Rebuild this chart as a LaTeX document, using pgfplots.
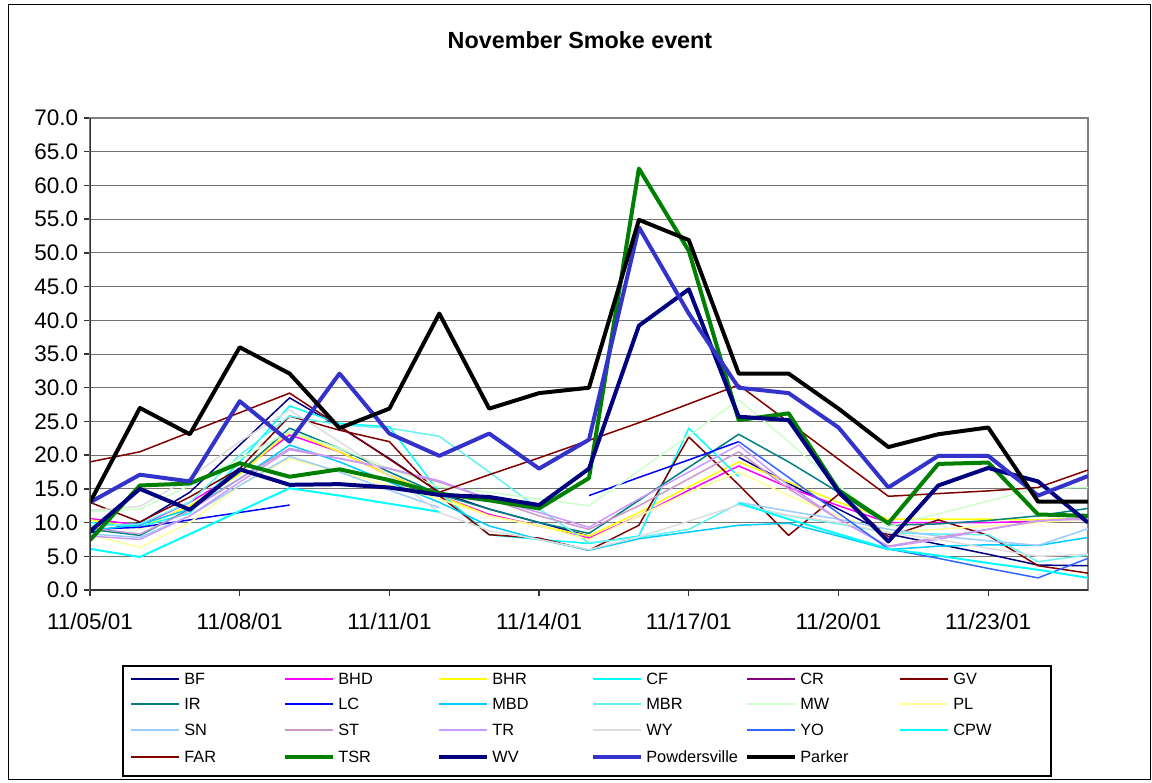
\documentclass[border=0pt]{standalone}
\usepackage{fontspec}
\setmainfont{Liberation Sans}
\usepackage{pgfplots}
\usepackage{pgfplotstable}
\pgfplotsset{compat=1.18}

\definecolor{cBF}{HTML}{000080}
\definecolor{cBHD}{HTML}{FF00FF}
\definecolor{cBHR}{HTML}{FFFF00}
\definecolor{cCF}{HTML}{00FFFF}
\definecolor{cCR}{HTML}{800080}
\definecolor{cGV}{HTML}{800000}
\definecolor{cIR}{HTML}{008080}
\definecolor{cLC}{HTML}{0000FF}
\definecolor{cMBD}{HTML}{00CCFF}
\definecolor{cMBR}{HTML}{66F2F2}
\definecolor{cMW}{HTML}{CCFFCC}
\definecolor{cPL}{HTML}{FFFF99}
\definecolor{cSN}{HTML}{99CCFF}
\definecolor{cST}{HTML}{CC99CC}
\definecolor{cTR}{HTML}{CC99FF}
\definecolor{cWY}{HTML}{DDDDDD}
\definecolor{cYO}{HTML}{3366FF}
\definecolor{cCPW}{HTML}{00FFFF}
\definecolor{cFAR}{HTML}{800000}
\definecolor{cTSR}{HTML}{008000}
\definecolor{cWV}{HTML}{000080}
\definecolor{cPow}{HTML}{3333CC}
\definecolor{cPar}{HTML}{000000}

\pgfplotstableread{
d BF BHD BHR CF CR GV IR LC MBD MBR MW PL SN ST TR WY YO CPW FAR TSR WV Pow Par
0 8.5 10.6 10.4 10.0 nan 13.0 9.0 9.0 8.8 9.5 11.6 8.2 8.3 9.2 8.0 11.8 nan 6.1 19.0 7.4 8.7 13.0 13.0
1 10.0 9.6 9.2 9.4 nan 10.1 8.1 9.3 9.7 9.8 12.0 6.3 7.8 8.3 7.5 12.4 nan 4.9 20.5 15.5 15.0 17.1 27.0
2 14.5 13.0 12.5 11.4 nan 13.8 12.0 10.4 12.0 13.0 15.5 10.0 11.0 11.8 11.0 16.6 nan 8.3 23.4 15.8 11.9 16.1 23.1
3 21.5 17.5 17.2 19.0 nan 18.0 17.5 11.5 16.5 20.0 19.5 15.5 15.5 16.5 16.0 22.0 nan 11.7 26.3 18.8 17.9 28.0 36.0
4 28.5 23.0 23.5 27.3 nan 25.8 24.0 12.6 21.5 25.8 23.5 19.5 19.8 21.0 20.8 26.7 nan 15.1 29.2 16.8 15.6 22.0 32.1
5 24.2 20.5 20.5 24.7 nan 23.7 21.0 nan 19.0 24.5 21.0 17.5 17.5 19.5 19.5 22.0 nan 14.0 24.3 17.9 15.7 32.1 24.0
6 19.5 17.0 17.0 24.2 nan 22.0 17.5 nan 16.0 24.0 18.0 15.5 14.8 18.0 18.0 17.0 nan 12.8 19.4 16.3 15.2 23.2 26.9
7 14.5 14.0 14.0 14.5 nan 14.0 14.2 nan 13.0 22.8 15.3 13.5 12.2 16.0 16.2 11.5 nan 11.6 14.5 14.3 14.1 19.9 41.0
8 12.0 11.2 11.0 8.2 nan 8.2 12.0 nan 9.5 17.5 14.5 11.0 nan 13.5 13.5 8.8 nan nan 17.1 13.3 13.8 23.2 26.9
9 10.0 9.5 9.5 7.5 nan 7.7 10.0 nan 7.5 12.0 13.5 9.5 nan 11.0 11.5 7.5 nan nan 19.6 12.1 12.6 18.0 29.2
10 8.0 7.7 8.0 6.9 nan 5.9 8.4 14.0 5.9 7.0 12.5 7.5 nan 9.0 9.3 6.0 nan nan 22.2 16.6 18.0 22.3 30.0
11 nan 11.0 11.5 8.0 nan 9.6 13.3 16.7 7.6 7.8 17.7 11.0 nan 12.5 13.5 7.9 nan nan 24.8 62.5 39.2 53.8 54.9
12 nan 14.8 15.3 24.0 nan 22.7 18.2 19.3 8.6 9.0 22.9 14.5 nan 16.5 17.5 10.2 nan nan 27.6 50.3 44.6 41.0 51.9
13 19.7 18.4 19.0 16.8 19.7 15.6 23.1 22.0 9.6 12.8 28.2 17.5 13.0 20.5 21.5 12.6 22.0 12.9 30.4 25.2 25.7 30.0 32.1
14 15.8 15.2 16.0 nan nan 8.1 19.0 nan 9.9 11.0 22.0 14.0 11.7 15.0 15.5 11.1 16.7 10.5 24.9 26.2 25.2 29.2 32.1
15 12.0 12.5 13.0 nan nan 14.2 14.5 nan 8.0 9.8 15.5 11.0 10.5 10.5 10.5 10.0 11.4 8.3 19.4 14.8 14.6 24.1 26.9
16 8.3 10.0 10.5 nan nan 7.9 9.6 nan 6.0 8.5 9.4 8.5 9.0 6.5 6.4 8.5 6.1 6.1 13.9 9.9 7.2 15.2 21.2
17 6.8 10.0 10.5 nan nan 10.4 9.8 nan 6.5 8.3 11.3 9.0 8.0 7.8 7.5 7.5 4.7 5.1 14.3 18.7 15.5 19.9 23.1
18 5.3 10.0 10.5 nan nan 8.1 10.3 nan 6.7 8.2 13.2 9.5 7.3 9.0 9.0 6.2 3.2 4.0 14.7 18.9 18.1 19.9 24.1
19 3.7 10.2 10.4 nan nan 3.6 11.0 nan 6.6 4.2 15.1 10.0 6.6 10.2 10.3 5.0 1.8 3.0 15.2 11.2 16.1 14.0 13.1
20 3.6 10.5 10.7 nan nan 2.5 12.1 nan 7.8 5.2 15.2 10.5 9.1 10.8 10.5 5.3 4.7 1.8 17.8 11.0 10.0 16.9 13.1
}\data

\newcommand{\ser}[3]{\addplot[color=#1, line width=#2, no markers, line join=round] table[x=d, y=#3] {\data};}
\newcommand{\legentry}[5]{% x y color width text
  \draw[#3, line width=#4] (#1,#2) -- ++(48,0);
  \node[anchor=west, inner sep=0pt, font=\fontsize{9.8}{11}\selectfont] at (#1+53,#2) {#5};}

\begin{document}
\begin{tikzpicture}
\useasboundingbox (0,0) rectangle (691.2pt,-469.2pt);
\begin{scope}[x=0.6pt, y=-0.6pt]
  \draw[black, line width=0.6pt] (8,4) rectangle (1150,779);
  \node[font=\bfseries\fontsize{14}{16}\selectfont] at (580,40) {November Smoke event};
\end{scope}
\begin{axis}[
  at={(54pt,-354pt)}, anchor=south west,
  scale only axis, width=598.8pt, height=283.2pt,
  xmin=0, xmax=20, ymin=0, ymax=70,
  xtick={0,3,...,18},
  xticklabels={11/05/01,11/08/01,11/11/01,11/14/01,11/17/01,11/20/01,11/23/01},
  xticklabel style={yshift=-7pt},
  ytick={0,5,...,70},
  yticklabel style={/pgf/number format/.cd, fixed, fixed zerofill, precision=1},
  /pgf/number format/assume math mode=true,
  ymajorgrids, grid style={draw=black!55, line width=0.6pt},
  axis line style={draw=black!50, line width=1pt},
  tick align=outside, xtick pos=bottom, ytick pos=left,
  major tick length=3.6pt, tick style={draw=black!80, line width=0.8pt},
  tick label style={font=\fontsize{13.5}{16}\selectfont},
  unbounded coords=jump,
]
\ser{cBF}{0.9pt}{BF}
\ser{cBHD}{0.9pt}{BHD}
\ser{cBHR}{0.9pt}{BHR}
\ser{cCF}{0.9pt}{CF}
\ser{cCR}{0.9pt}{CR}
\ser{cGV}{0.9pt}{GV}
\ser{cIR}{0.9pt}{IR}
\ser{cLC}{0.9pt}{LC}
\ser{cMBD}{0.9pt}{MBD}
\ser{cMBR}{0.9pt}{MBR}
\ser{cMW}{0.9pt}{MW}
\ser{cPL}{0.9pt}{PL}
\ser{cSN}{0.9pt}{SN}
\ser{cST}{0.9pt}{ST}
\ser{cTR}{0.9pt}{TR}
\ser{cWY}{0.9pt}{WY}
\ser{cYO}{0.9pt}{YO}
\ser{cCPW}{1.2pt}{CPW}
\ser{cFAR}{0.9pt}{FAR}
\ser{cTSR}{2.4pt}{TSR}
\ser{cWV}{2.4pt}{WV}
\ser{cPow}{2.4pt}{Pow}
\ser{cPar}{2.4pt}{Par}
\draw[black!80, line width=1.2pt] (rel axis cs:0,0) -- (rel axis cs:0,1);
\draw[black!80, line width=1.2pt] (rel axis cs:0,0) -- (rel axis cs:1,0);
\end{axis}
\begin{scope}[x=0.6pt, y=-0.6pt]
  \draw[black, line width=1.2pt] (123,666) rectangle (1051,776);
  \legentry{131}{679}{cBF}{0.9pt}{BF}
  \legentry{285}{679}{cBHD}{0.9pt}{BHD}
  \legentry{439}{679}{cBHR}{0.9pt}{BHR}
  \legentry{593}{679}{cCF}{0.9pt}{CF}
  \legentry{747}{679}{cCR}{0.9pt}{CR}
  \legentry{900}{679}{cGV}{0.9pt}{GV}
  \legentry{131}{704}{cIR}{0.9pt}{IR}
  \legentry{285}{704}{cLC}{0.9pt}{LC}
  \legentry{439}{704}{cMBD}{0.9pt}{MBD}
  \legentry{593}{704}{cMBR}{0.9pt}{MBR}
  \legentry{747}{704}{cMW}{0.9pt}{MW}
  \legentry{900}{704}{cPL}{0.9pt}{PL}
  \legentry{131}{730}{cSN}{0.9pt}{SN}
  \legentry{285}{730}{cST}{0.9pt}{ST}
  \legentry{439}{730}{cTR}{0.9pt}{TR}
  \legentry{593}{730}{cWY}{0.9pt}{WY}
  \legentry{747}{730}{cYO}{0.9pt}{YO}
  \legentry{900}{730}{cCPW}{1.2pt}{CPW}
  \legentry{131}{757}{cFAR}{0.9pt}{FAR}
  \legentry{285}{757}{cTSR}{2.4pt}{TSR}
  \legentry{439}{757}{cWV}{2.4pt}{WV}
  \legentry{593}{757}{cPow}{2.4pt}{Powdersville}
  \legentry{747}{757}{cPar}{2.4pt}{Parker}
\end{scope}
\end{tikzpicture}
\end{document}
